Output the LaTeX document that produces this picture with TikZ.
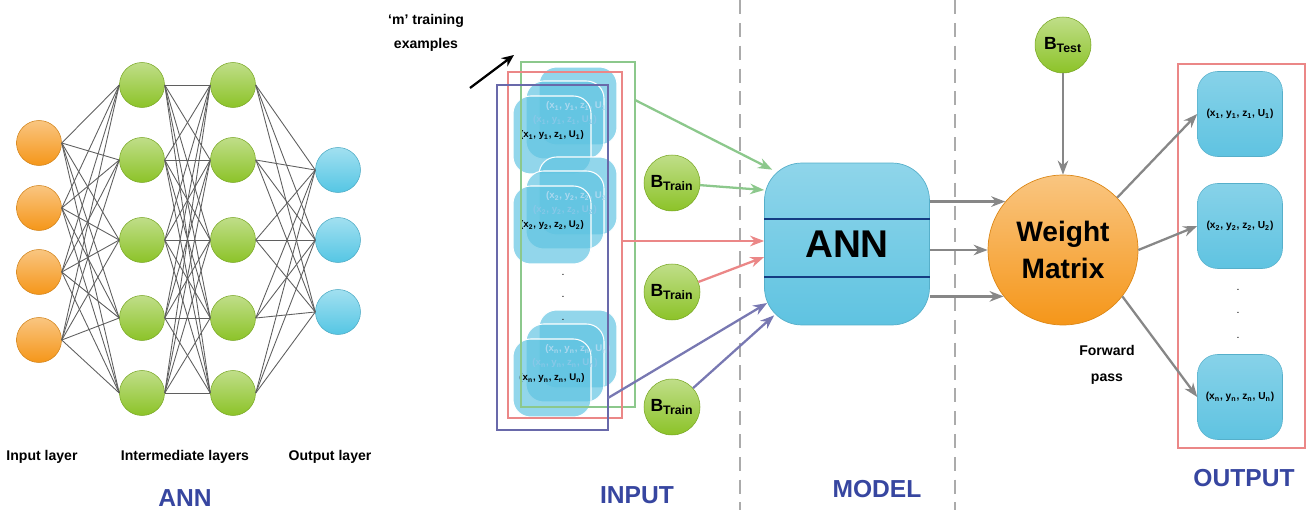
\documentclass[tikz,border=0pt]{standalone}
\usepackage{fontspec}
\setmainfont{Liberation Sans}
\usetikzlibrary{arrows.meta, positioning}

\definecolor{nnorange}{RGB}{245,150,25}
\definecolor{nngreen}{RGB}{140,195,40}
\definecolor{nncyan}{RGB}{85,198,228}
\definecolor{boxblue}{RGB}{95,195,225}
\definecolor{titleblue}{RGB}{55,70,160}
\definecolor{framegreen}{RGB}{140,200,140}
\definecolor{framered}{RGB}{235,135,135}
\definecolor{frameblue}{RGB}{105,105,170}
\definecolor{arrowgray}{RGB}{135,135,135}
\definecolor{linegray}{RGB}{95,95,95}
\definecolor{fadedtext}{RGB}{135,200,232}
\definecolor{darkline}{RGB}{20,60,130}

\newcommand{\sampletuple}[1]{(x\textsubscript{#1}, y\textsubscript{#1}, z\textsubscript{#1}, U\textsubscript{#1})}

\begin{document}
\begin{tikzpicture}[x=0.02cm, y=-0.02cm, font=\bfseries,
		neuron/.style={circle, minimum size=0.9cm, inner sep=0pt, draw=#1!85!black, line width=0.3pt, top color=#1!55!white, bottom color=#1},
		nn_edge/.style={draw=linegray, line width=0.5pt},
		bias/.style={neuron=nngreen, minimum size=1.12cm, font=\bfseries\fontsize{10}{12}\selectfont},
		sample/.style={rounded corners=0.35cm, minimum width=1.56cm, minimum height=1.56cm, fill=boxblue, fill opacity=0.68, draw=white, line width=0.6pt},
		sample_text/.style={font=\bfseries\fontsize{5.5}{6}\selectfont, inner sep=0pt},
		frame/.style={draw=#1, line width=1.2pt, inner sep=0pt},
		flow/.style={-{Stealth[length=8pt,width=6pt]}, line width=1.3pt, draw=#1},
		label/.style={font=\bfseries\fontsize{8}{9}\selectfont},
		title/.style={font=\bfseries\fontsize{14}{15}\selectfont, text=titleblue},
		out_box/.style={rounded corners=0.4cm, minimum width=1.7cm, minimum height=1.7cm, top color=boxblue!75!white, bottom color=boxblue, draw=boxblue!90!black, line width=0.3pt, font=\bfseries\fontsize{5.8}{6}\selectfont}]
	\useasboundingbox (0,0) rectangle (1306,510);

	% separators
	\draw[arrowgray!70, line width=1.3pt, dash pattern=on 8pt off 5pt] (740,0) -- (740,510);
	\draw[arrowgray!70, line width=1.3pt, dash pattern=on 8pt off 5pt] (955,0) -- (955,510);

	% ANN sketch
	\foreach \i/\y in {1/143,2/208,3/272,4/340}
		\node[neuron=nnorange] (in_\i) at (39,\y) {};
	\foreach \i/\y in {1/85,2/160,3/240,4/318,5/393} {
		\node[neuron=nngreen] (hida_\i) at (142,\y) {};
		\node[neuron=nngreen] (hidb_\i) at (233,\y) {};
	}
	\foreach \i/\y in {1/170,2/240,3/312}
		\node[neuron=nncyan] (out_\i) at (338,\y) {};
	\foreach \i in {1,...,4}
		\foreach \j in {1,...,5}
			\draw[nn_edge] (in_\i.east) -- (hida_\j.west);
	\foreach \i in {1,...,5}
		\foreach \j in {1,...,5}
			\draw[nn_edge] (hida_\i.east) -- (hidb_\j.west);
	\foreach \i in {1,...,5}
		\foreach \j in {1,...,3}
			\draw[nn_edge] (hidb_\i.east) -- (out_\j.west);
	\node[label] (input_label) at (42,457) {Input layer};
	\node[label] (inter_label) at (185,457) {Intermediate layers};
	\node[label] (output_label) at (330,457) {Output layer};
	\node[title] (ann_title) at (185,498) {ANN};

	% training examples
	\node[label, align=center] (m_label) at (426,33) {‘m’ training\\[5pt]examples};
	\coordinate (m_tail) at (470,88);
	\coordinate (m_head) at (514,55);
	\draw[-{Stealth[length=7pt,width=6pt]}, line width=1.3pt] (m_tail) -- (m_head);
	\foreach \g/\y/\k in {1/135/1,2/225/2,3/378/n} {
		\node[sample] (s\g_c) at (578,\y-29) {};
		\node[sample] (s\g_b) at (565,\y-15) {};
		\node[sample] (s\g_a) at (552,\y) {};
		\node[sample_text, text=fadedtext!70!white] (t\g_c) at (s\g_c) {\sampletuple{\k}};
		\node[sample_text, text=fadedtext] (t\g_b) at (s\g_b) {\sampletuple{\k}};
		\node[sample_text] (t\g_a) at (s\g_a) {\sampletuple{\k}};
	}
	\foreach \d/\y in {1/275,2/297,3/320}
		\node[inner sep=0pt, font=\fontsize{6}{6}\selectfont] (in_dot_\d) at (563,\y) {.};
	\node[frame=framegreen, minimum width=2.28cm, minimum height=6.9cm] (green_frame) at (578,234.5) {};
	\node[frame=framered, minimum width=2.28cm, minimum height=6.92cm] (red_frame) at (565,245) {};
	\node[frame=frameblue, minimum width=2.22cm, minimum height=6.9cm] (blue_frame) at (552.5,257.5) {};
	\node[title] (input_title) at (637,495) {INPUT};

	% batches and model
	\foreach \b/\y in {1/183,2/292,3/407}
		\node[bias] (b_train_\b) at (672,\y) {B\textsubscript{Train}};
	\node[rounded corners=0.75cm, minimum width=3.3cm, minimum height=3.24cm, top color=boxblue!70!white, bottom color=boxblue, draw=boxblue!90!black, line width=0.4pt, font=\bfseries\fontsize{22}{24}\selectfont] (ann_box) at (847,244) {ANN};
	\draw[darkline, line width=1.4pt] (ann_box.west |- 0,219) -- (ann_box.east |- 0,219);
	\draw[darkline, line width=1.4pt] (ann_box.west |- 0,277) -- (ann_box.east |- 0,277);
	\node[title] (model_title) at (877,489) {MODEL};
	\coordinate (green_out) at (635,100);
	\coordinate (red_out) at (622,241);
	\coordinate (blue_out) at (608,398);
	\draw[flow=framegreen] (green_out) -- ([xshift=0.16cm, yshift=-0.14cm]ann_box.north west);
	\draw[flow=framegreen] (b_train_1) -- ([yshift=1.08cm]ann_box.west);
	\draw[flow=framered] (red_out) -- (ann_box.west |- red_out);
	\draw[flow=framered] (b_train_2) -- ([yshift=-0.26cm]ann_box.west);
	\draw[flow=frameblue!90!white] (blue_out) -- ([xshift=0.06cm, yshift=-1.18cm]ann_box.west);
	\draw[flow=frameblue!90!white] (b_train_3) -- ([xshift=0.2cm, yshift=0.2cm]ann_box.south west);

	% testing
	\node[circle, minimum size=3cm, inner sep=0pt, top color=nnorange!55!white, bottom color=nnorange, draw=nnorange!90!black, line width=0.4pt, align=center, font=\bfseries\fontsize{16}{21}\selectfont] (weight_matrix) at (1063,250) {Weight\\Matrix};
	\node[bias] (b_test) at (1063,45) {B\textsubscript{Test}};
	\draw[flow=arrowgray] (b_test) -- (weight_matrix);
	\foreach \a in {140,180,218}
		\draw[flow=arrowgray] (ann_box.east |- weight_matrix.\a) -- (weight_matrix.\a);
	\node[label, align=center] (forward_label) at (1107,365) {Forward\\[6pt]pass};

	% output
	\node[out_box] (out_box_1) at (1240,114) {\sampletuple{1}};
	\node[out_box] (out_box_2) at (1240,226) {\sampletuple{2}};
	\node[out_box] (out_box_3) at (1240,397) {\sampletuple{n}};
	\foreach \d/\y in {1/290,2/313,3/338}
		\node[inner sep=0pt, font=\fontsize{6}{6}\selectfont] (out_dot_\d) at (1238,\y) {.};
	\node[frame=framered, minimum width=2.54cm, minimum height=7.68cm] (out_frame) at (1241.5,256) {};
	\draw[flow=arrowgray] (weight_matrix.44) -- (out_box_1.west);
	\draw[flow=arrowgray] (weight_matrix.east) -- (out_box_2.west);
	\draw[flow=arrowgray] (weight_matrix.322) -- (out_box_3.west);
	\node[title] (output_title) at (1244,478) {OUTPUT};
\end{tikzpicture}
\end{document}
